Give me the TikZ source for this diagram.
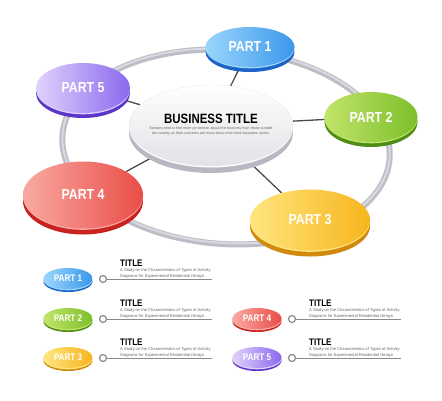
\documentclass[tikz,border=0pt]{standalone}
\usepackage{fontspec}
\setmainfont{Liberation Sans}
\newfontfamily\condf[FakeStretch=0.85]{Liberation Sans}
\usetikzlibrary{shapes.geometric}
\pgfdeclarelayer{bg}
\pgfsetlayers{bg,main}
\definecolor{bluel}{HTML}{9AD6FD}\definecolor{blued}{HTML}{3B97EA}\definecolor{bluerim}{HTML}{1E64C8}
\definecolor{greenl}{HTML}{C2E46A}\definecolor{greend}{HTML}{7CBF2A}\definecolor{greenrim}{HTML}{4F8D17}
\definecolor{yell}{HTML}{FFE680}\definecolor{yeld}{HTML}{F6B51D}\definecolor{yelrim}{HTML}{D08A10}
\definecolor{redl}{HTML}{F9AAA3}\definecolor{redd}{HTML}{EA4D47}\definecolor{redrim}{HTML}{C8231F}
\definecolor{purl}{HTML}{E0D2FC}\definecolor{purd}{HTML}{8B68EE}\definecolor{purrim}{HTML}{5A37C9}
\definecolor{cenl}{HTML}{FFFFFF}\definecolor{cend}{HTML}{E2E2E7}\definecolor{cenrim}{HTML}{B8B8C2}
\definecolor{ringc}{HTML}{BDBDC7}\definecolor{ringl}{HTML}{D9D9E0}
\definecolor{conn}{HTML}{4A4A4A}\definecolor{legline}{HTML}{8A8A8A}\definecolor{subtxt}{HTML}{666666}
\tikzset{
  discnode/.style={ellipse, inner sep=0pt, text=white},
  connector/.style={draw=conn, line width=1.3pt},
  legdot/.style={circle, draw=legline, line width=1.2pt, fill=white, minimum size=7pt, inner sep=0pt},
  legrule/.style={draw=legline, line width=1pt},
  legtitle/.style={anchor=west, inner sep=0pt, font=\condf\bfseries\fontsize{9.5}{10}\selectfont},
  legsub/.style={anchor=west, inner sep=0pt, align=left, text=subtxt, font=\fontsize{4.1}{5.6}\selectfont},
}
% name, x, y, rx, ry, thickness, colour prefix, label, font size
\newcommand{\mydisc}[9]{%
  \fill[#7rim] (#2,#3+#6) ellipse[x radius=#4pt, y radius=#5pt];
  \fill[#7l] (#2,#3+1.3) ellipse[x radius=#4pt, y radius=#5pt];
  \node[discnode, minimum width={2*#4pt}, minimum height={2*#5pt}, left color=#7l, right color=#7d,
        font=\condf\bfseries\fontsize{#9}{#9}\selectfont] (#1) at (#2,#3) {#8};
}
% name, x, y, colour prefix, label
\newcommand{\legrow}[5]{%
  \mydisc{#1}{#2}{#3-0.5}{24.5}{10.5}{3}{#4}{#5}{9.6}
  \node[legdot] (#1c) at (#2+35,#3) {};
  \coordinate (#1e) at (#2+144,#3);
  \draw[legrule] (#1c) -- (#1e);
  \node[legtitle] (#1t) at (#2+52,#3-16.2) {TITLE};
  \node[legsub] (#1s) at (#2+52,#3-5.6) {A Study on the Characteristics of Types of Activity\\Diagrams for Experimental Residential Design};
}
\begin{document}
\begin{tikzpicture}[x=1pt, y=-1pt]
\useasboundingbox (0,0) rectangle (442,400);

% discs
\mydisc{p1}{250}{47}{44.5}{20}{5}{blue}{PART 1}{14.5}
\mydisc{p2}{371}{117}{46.5}{25}{5}{green}{PART 2}{14.5}
\mydisc{p3}{310}{220}{60}{30.5}{6}{yel}{PART 3}{14.5}
\mydisc{p4}{83}{195}{60}{33.5}{6}{red}{PART 4}{14.5}
\mydisc{p5}{83}{88}{47}{25}{5}{pur}{PART 5}{14.5}

% centre disc
\fill[cenrim] (211,125.5+7) ellipse[x radius=82pt, y radius=40.5pt];
\fill[white] (211,125.5+1.5) ellipse[x radius=82pt, y radius=40.5pt];
\node[ellipse, inner sep=0pt, minimum width=164pt, minimum height=81pt, top color=cenl, bottom color=cend, draw=cend!80!white, line width=0.3pt] (c) at (211,125.5) {};
\node[inner sep=0pt, font=\condf\bfseries\fontsize{13.5}{14}\selectfont] (ct) at (211,119) {BUSINESS TITLE};
\node[inner sep=0pt, align=center, text=subtxt, font=\fontsize{3.65}{4.9}\selectfont] (cs) at (211,131) {Koreans tend to feel more pe simistic about the economy than those outside\\the country as their concerns are more about short-term business cycles.};

\begin{pgfonlayer}{bg}
  \fill[white] (0,0) rectangle (442,400);
  \draw[ringc, line width=6pt, rotate around={-4:(226,147)}] (226,147) ellipse[x radius=164pt, y radius=97pt];
  \draw[ringl, line width=2pt, rotate around={-4:(226,147)}] (226,146) ellipse[x radius=164pt, y radius=97pt];
  \draw[connector] (c) -- (p1);
  \draw[connector] (c) -- (p2);
  \draw[connector] (c) -- (p3);
  \draw[connector] (c) -- (p4);
  \draw[connector] (c) -- (p5);
\end{pgfonlayer}

% legend
\legrow{l1}{68}{279}{blue}{PART 1}
\legrow{l2}{68}{319}{green}{PART 2}
\legrow{l3}{68}{358}{yel}{PART 3}
\legrow{l4}{257}{319}{red}{PART 4}
\legrow{l5}{257}{358}{pur}{PART 5}
\end{tikzpicture}
\end{document}
